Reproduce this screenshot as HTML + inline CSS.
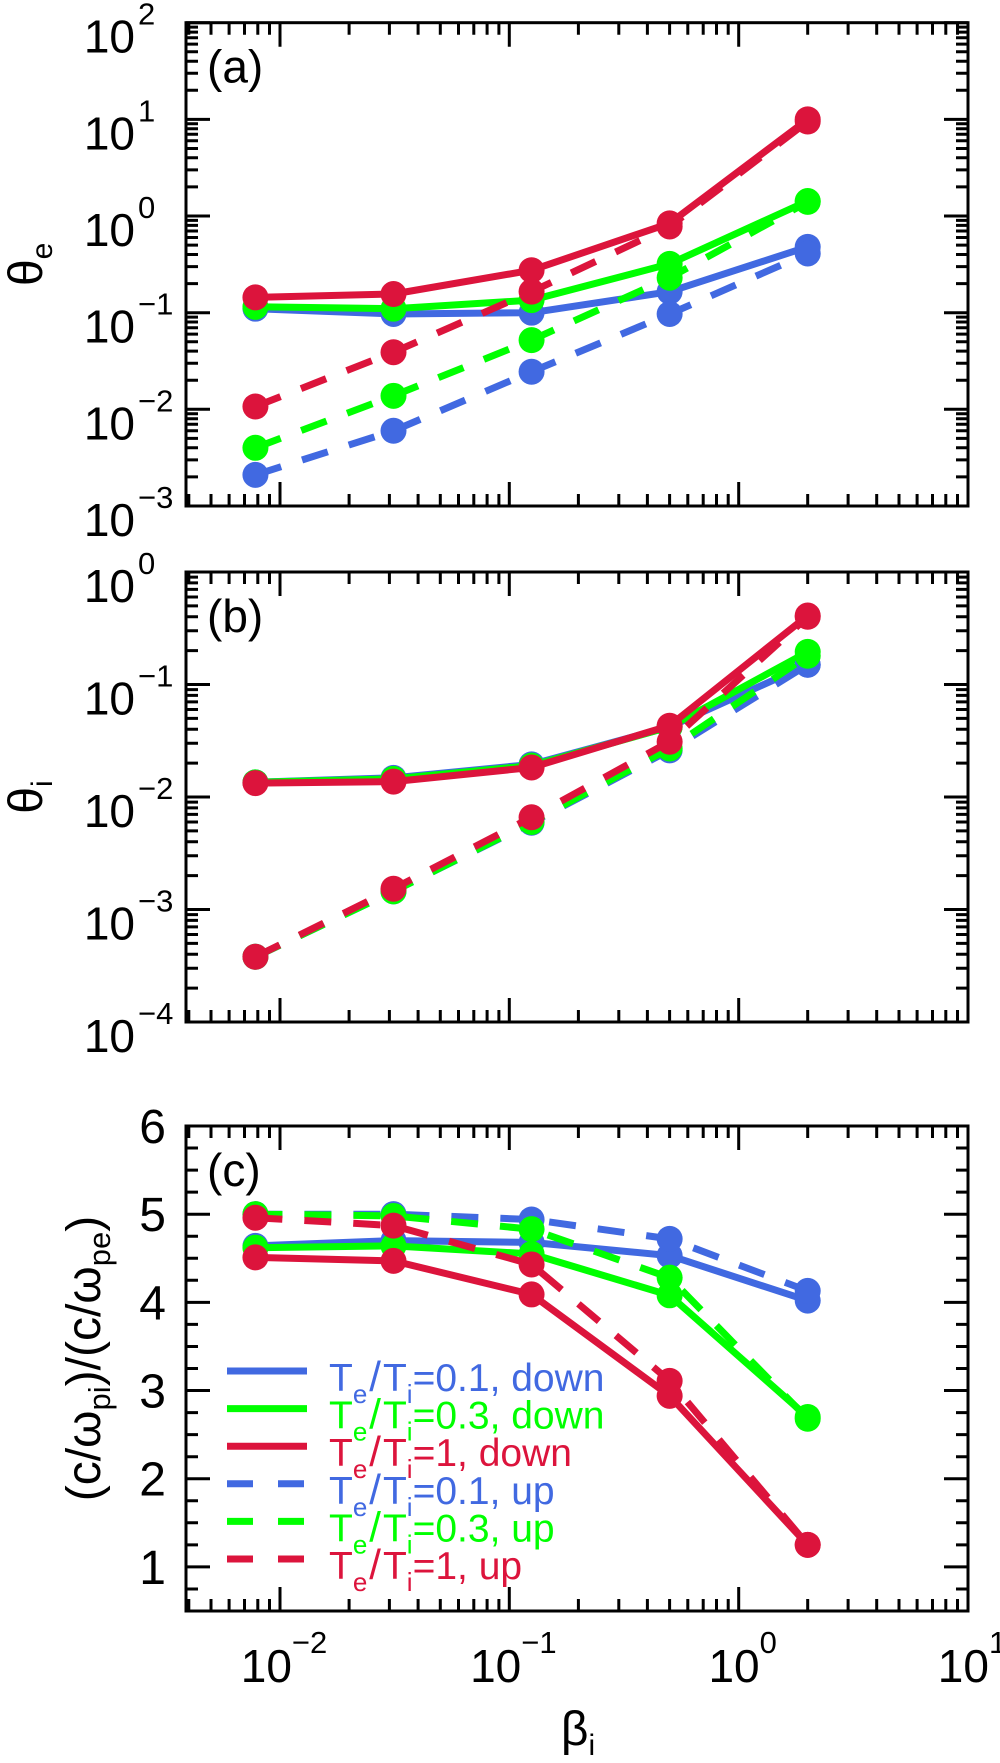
<!DOCTYPE html>
<html><head><meta charset="utf-8">
<style>
html,body{margin:0;padding:0;background:#fff;}
svg{display:block;font-family:"Liberation Sans",Arial,sans-serif;}
</style></head>
<body>
<svg id="chart" width="1000" height="1763" viewBox="0 0 1000 1763" xmlns="http://www.w3.org/2000/svg"></svg>
<script>
const beta = [0.0078125, 0.03125, 0.125, 0.5, 2];
const thetaEDown01 = [0.11, 0.097, 0.10, 0.165, 0.48];
const thetaEDown03 = [0.115, 0.11, 0.135, 0.32, 1.43];
const thetaEDown1  = [0.144, 0.156, 0.275, 0.84, 10];
const thetaEUp01   = [0.0021, 0.006, 0.0245, 0.097, 0.41];
const thetaEUp03   = [0.004, 0.0138, 0.052, 0.23, 1.4];
const thetaEUp1    = [0.0107, 0.039, 0.165, 0.78, 9.5];
const thetaIDown01 = [0.0135, 0.0148, 0.0195, 0.042, 0.15];
const thetaIDown03 = [0.0135, 0.0145, 0.019, 0.042, 0.195];
const thetaIDown1  = [0.0133, 0.0137, 0.0183, 0.043, 0.41];
const thetaIUp01   = [0.00038, 0.00145, 0.0059, 0.026, 0.15];
const thetaIUp03   = [0.00038, 0.00145, 0.006, 0.027, 0.18];
const thetaIUp1    = [0.00038, 0.00153, 0.0066, 0.031, 0.40];
const ratioDown01 = [4.64, 4.70, 4.68, 4.53, 4.02];
const ratioDown03 = [4.62, 4.64, 4.55, 4.08, 2.70];
const ratioDown1  = [4.51, 4.47, 4.09, 2.94, 1.25];
const ratioUp01   = [5.0, 5.0, 4.94, 4.72, 4.13];
const ratioUp03   = [5.0, 4.98, 4.83, 4.28, 2.68];
const ratioUp1    = [4.96, 4.87, 4.43, 3.11, 1.25];
const xTickExps = [-2, -1, 0, 1];
const ratioTicks = [1, 2, 3, 4, 5, 6];
const legendLabels = [["0.1", "down"], ["0.3", "down"], ["1", "down"], ["0.1", "up"], ["0.3", "up"], ["1", "up"]];

const NS = "http://www.w3.org/2000/svg";
const svg = document.getElementById("chart");
const BLUE = "#4169E1", GREEN = "#00FF00", RED = "#DC143C";
const L = 186, R = 968, XMIN = -2.41, XMAX = 1;
function xS(v){ return L + (Math.log10(v) - XMIN) / (XMAX - XMIN) * (R - L); }

function el(tag, attrs, parent){
  const e = document.createElementNS(NS, tag);
  for (const k in attrs) e.setAttribute(k, attrs[k]);
  (parent || svg).appendChild(e);
  return e;
}

const panels = [
  {id:"a", top:22.7, bot:506, log:true, ymin:-3, ymax:2, title:["θ","e"],
   series:[thetaEDown01, thetaEDown03, thetaEDown1, thetaEUp01, thetaEUp03, thetaEUp1]},
  {id:"b", top:572, bot:1022, log:true, ymin:-4, ymax:0, title:["θ","i"],
   series:[thetaIDown01, thetaIDown03, thetaIDown1, thetaIUp01, thetaIUp03, thetaIUp1]},
  {id:"c", top:1126, bot:1611, log:false, ymin:0.5, ymax:6, title:null,
   series:[ratioDown01, ratioDown03, ratioDown1, ratioUp01, ratioUp03, ratioUp1]}
];
const colors = [BLUE, GREEN, RED, BLUE, GREEN, RED];
const seriesNames = ["te-ti-0.1-down","te-ti-0.3-down","te-ti-1-down","te-ti-0.1-up","te-ti-0.3-up","te-ti-1-up"];

panels.forEach(p => {
  const g = el("g", {});
  
  
  const yS = p.log
    ? v => p.top + (p.ymax - Math.log10(v)) / (p.ymax - p.ymin) * (p.bot - p.top)
    : v => p.top + (p.ymax - v) / (p.ymax - p.ymin) * (p.bot - p.top);
  const yF = p.log
    ? e => p.top + (p.ymax - e) / (p.ymax - p.ymin) * (p.bot - p.top)
    : yS;

  const sg = el("g", {}, g);
  
  
  p.series.forEach((vals, si) => {
    const pts = vals.map((v, i) => xS(beta[i]).toFixed(1) + "," + yS(v).toFixed(1)).join(" ");
    const line = el("polyline", {points: pts, fill: "none", stroke: colors[si], "stroke-width": 7,
      "stroke-linejoin": "round", "stroke-dasharray": si >= 3 ? "27 22" : "none"}, sg);
    
    
    vals.forEach((v, i) => {
      const c = el("circle", {cx: xS(beta[i]), cy: yS(v), r: 13, fill: colors[si]}, sg);
      
      
    });
  });

  const fr = el("rect", {x: L, y: p.top, width: R - L, height: p.bot - p.top, fill: "none", stroke: "#000", "stroke-width": 3}, g);
  
  

  let d = "";
  for (let e = -3; e <= 1; e++) {
    for (let m = 1; m <= 9; m++) {
      const lv = e + Math.log10(m);
      if (lv < XMIN - 1e-9 || lv > XMAX + 1e-9) continue;
      const x = L + (lv - XMIN) / (XMAX - XMIN) * (R - L);
      const len = m === 1 ? 24 : 12;
      d += `M${x.toFixed(1)},${p.bot}v${-len}M${x.toFixed(1)},${p.top}v${len}`;
    }
  }
  if (p.log) {
    for (let e = p.ymin; e <= p.ymax; e++) {
      for (let m = 1; m <= 9; m++) {
        const lv = e + Math.log10(m);
        if (lv > p.ymax + 1e-9) continue;
        const y = yF(lv);
        const len = m === 1 ? 24 : 12;
        d += `M${L},${y.toFixed(1)}h${len}M${R},${y.toFixed(1)}h${-len}`;
      }
    }
  } else {
    for (let v = 0.5; v <= 6.0001; v += 0.25) {
      const y = yS(v);
      const len = Math.abs(v - Math.round(v)) < 1e-6 ? 24 : 12;
      d += `M${L},${y.toFixed(1)}h${len}M${R},${y.toFixed(1)}h${-len}`;
    }
  }
  const tk = el("path", {d: d, stroke: "#000", "stroke-width": 3, fill: "none"}, g);
  
  

  if (p.log) {
    for (let e = p.ymin; e <= p.ymax; e++) {
      const y = yF(e);
      const t = el("text", {x: 135, y: y + 30, "font-size": 46, "text-anchor": "end"}, g);
      t.textContent = "10";
      
      
      const s = el("text", {x: 138, y: y + 2, "font-size": 31}, g);
      s.textContent = e === 0 ? "0" : (e < 0 ? "\u2212" + (-e) : String(e));
      
      
    }
  } else {
    ratioTicks.forEach(v => {
      const t = el("text", {x: 166, y: yS(v) + 17, "font-size": 48, "text-anchor": "end"}, g);
      t.textContent = String(v);
      
      
    });
  }

  const pl = el("text", {x: 207, y: p.top + 60, "font-size": 46}, g);
  pl.textContent = "(" + p.id + ")";
  
  

  const cy = (p.top + p.bot) / 2;
  if (p.title) {
    const t = el("text", {transform: `translate(42,${cy}) rotate(-90)`, "font-size": 48, "text-anchor": "middle"}, g);
    
    
    const a = el("tspan", {}, t); a.textContent = p.title[0];
    const b = el("tspan", {"font-size": 30, dy: 10}, t); b.textContent = p.title[1];
  } else {
    const t = el("text", {transform: `translate(100,${cy - 10}) rotate(-90)`, "font-size": 48, "text-anchor": "middle"}, g);
    
    
    const parts = [["(c/ω",0,48],["pi",10,31],[")/(c/ω",-10,48],["pe",10,31],[")",-10,48]];
    parts.forEach(pp => { const s = el("tspan", {dy: pp[1], "font-size": pp[2]}, t); s.textContent = pp[0]; });
  }

  if (p.id === "c") {
    xTickExps.forEach(e => {
      const x = xS(Math.pow(10, e));
      const t = el("text", {x: x + 4, y: p.bot + 71, "font-size": 46, "text-anchor": "middle"}, g);
      
      
      const a = el("tspan", {}, t); a.textContent = "10";
      const b = el("tspan", {"font-size": 31, dy: -29}, t);
      b.textContent = e === 0 ? "0" : (e < 0 ? "\u2212" + (-e) : String(e));
    });
    const xt = el("text", {x: 578, y: 1745, "font-size": 48, "text-anchor": "middle"}, g);
    
    
    const a = el("tspan", {}, xt); a.textContent = "β";
    const b = el("tspan", {"font-size": 30, dy: 10}, xt); b.textContent = "i";

    const lg = el("g", {}, g);
    
    
    legendLabels.forEach((lab, i) => {
      const y = 1371 + i * 37.6;
      const ln = el("line", {x1: 227, x2: 307, y1: y, y2: y, stroke: colors[i], "stroke-width": 7,
        "stroke-dasharray": i >= 3 ? "26 25" : "none"}, lg);
      
      
      const t = el("text", {x: 329, y: y + 20, "font-size": 39, fill: colors[i]}, lg);
      
      
      const s = [["T",0,39,0],["e",12,26,0],["/",-12,42,2],["T",0,39,2],["i",12,26,0],["=" + lab[0] + ", " + lab[1],-12,39,0]];
      s.forEach(pp => { const ts = el("tspan", {dy: pp[1], dx: pp[3], "font-size": pp[2]}, t); ts.textContent = pp[0]; });
    });
  }
});
</script>
</body></html>
